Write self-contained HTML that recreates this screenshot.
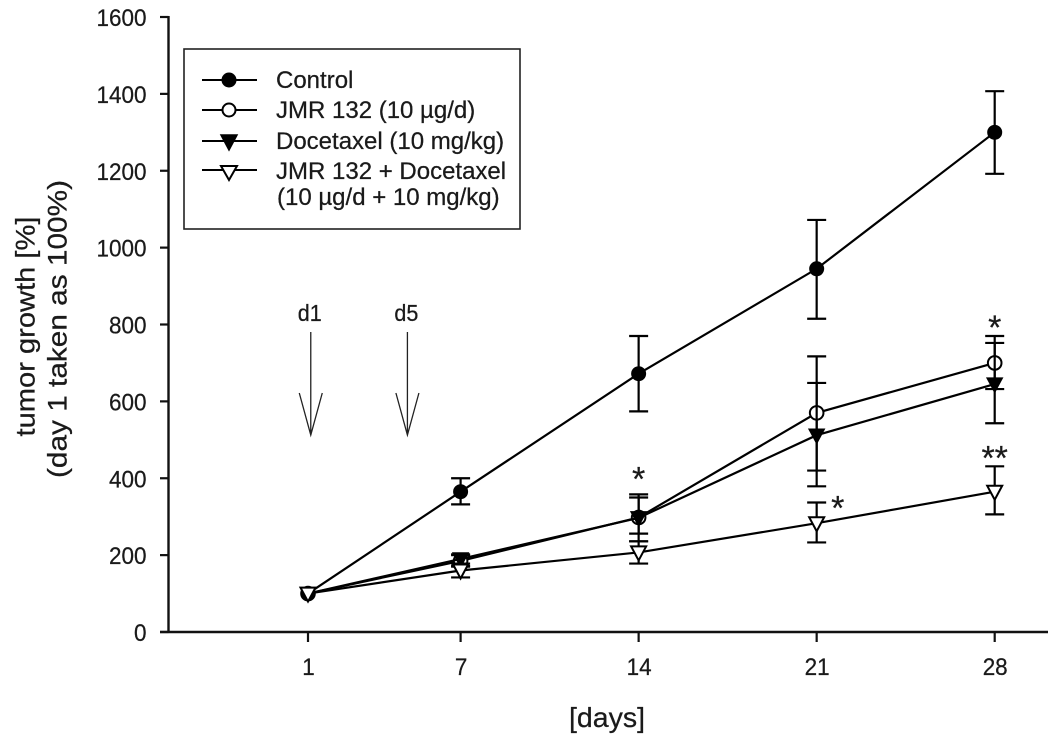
<!DOCTYPE html>
<html lang="en">
<head>
<meta charset="utf-8">
<title>Tumor growth chart</title>
<style>
html,body{margin:0;padding:0;background:#fff;width:1063px;height:740px;overflow:hidden}
svg{display:block}
text{font-family:"Liberation Sans",Arial,sans-serif;fill:#1a1a1a;stroke:#1a1a1a;stroke-width:.25}
</style>
</head>
<body>
<svg id="chart" xmlns="http://www.w3.org/2000/svg" width="1063" height="740" viewBox="0 0 1063 740">
  <g id="axes"></g>
  <g id="annotations"></g>
  <g id="series"></g>
  <text transform="translate(34.5,326.5) rotate(-90)" text-anchor="middle" font-size="27" textLength="220" lengthAdjust="spacingAndGlyphs">tumor growth [%]</text>
  <text transform="translate(66.5,329) rotate(-90)" text-anchor="middle" font-size="27" textLength="298" lengthAdjust="spacingAndGlyphs">(day 1 taken as 100%)</text>
  <text x="607" y="727" text-anchor="middle" font-size="28" textLength="76" lengthAdjust="spacingAndGlyphs">[days]</text>
  <g>
    <rect x="184" y="49" width="336" height="180" fill="#fff" stroke="#222" stroke-width="1.6"/>
    <g>
      <line x1="202" y1="80" x2="257" y2="80" stroke="#000" stroke-width="2"/>
      <circle cx="229" cy="80" r="7.5" fill="#000"/>
      <text x="276" y="88" font-size="24">Control</text>
    </g>
    <g>
      <line x1="202" y1="110" x2="257" y2="110" stroke="#000" stroke-width="2"/>
      <circle cx="229" cy="110" r="6.5" fill="#fff" stroke="#000" stroke-width="2"/>
      <text x="276" y="118" font-size="24">JMR 132 (10 µg/d)</text>
    </g>
    <g>
      <line x1="202" y1="141" x2="257" y2="141" stroke="#000" stroke-width="2"/>
      <path d="M221 135H237L229 150Z" fill="#000" stroke="#000" stroke-width="1.5"/>
      <text x="276" y="149" font-size="24">Docetaxel (10 mg/kg)</text>
    </g>
    <g>
      <line x1="202" y1="170" x2="257" y2="170" stroke="#000" stroke-width="2"/>
      <path d="M221 166H237L229 180Z" fill="#fff" stroke="#000" stroke-width="2"/>
      <text x="276" y="179" font-size="24">JMR 132 + Docetaxel</text>
      <text x="277" y="205" font-size="24">(10 µg/d + 10 mg/kg)</text>
    </g>
  </g>
</svg>
<script>
// Chart data
var days = [1, 7, 14, 21, 28];
var xTickLabels = ["1", "7", "14", "21", "28"];
var yTickLabels = ["0", "200", "400", "600", "800", "1000", "1200", "1400", "1600"];
var seriesNames = ["jmr132", "control", "docetaxel", "combination"];
var controlMean = [100, 365, 672, 945, 1300];
var controlHigh = [100, 400, 770, 1072, 1407];
var controlLow = [100, 332, 574, 815, 1192];
var jmrMean = [100, 185, 298, 570, 700];
var jmrHigh = [100, 200, 358, 717, 770];
var jmrLow = [100, 170, 256, 420, 632];
var doceMean = [100, 190, 297, 512, 645];
var doceHigh = [100, 202, 350, 648, 752];
var doceLow = [100, 178, 236, 379, 543];
var comboMean = [100, 160, 207, 283, 365];
var comboHigh = [100, 172, 236, 337, 431];
var comboLow = [100, 142, 178, 233, 306];
var arrowDays = [1.05, 4.85];
var arrowLabels = ["d1", "d5"];
var starDays = [28, 14, 21.83, 28];
var starValues = [802, 409, 333, 463];
var starLabels = ["*", "*", "*", "**"];

var NS = "http://www.w3.org/2000/svg";
function xScale(d) { return 308 + (d - 1) * (994.7 - 308) / 27; }
function yScale(v) { return 632 - v * (632 - 17) / 1600; }

function make(parent, tag, attrs, text) {
  var el = document.createElementNS(NS, tag);
  for (var k in attrs) el.setAttribute(k, attrs[k]);
  if (text !== undefined) el.textContent = text;
  parent.appendChild(el);
  return el;
}

var axes = document.getElementById("axes");
var yAxis = make(axes, "line", { x1: 168.5, y1: 16, x2: 168.5, y2: 633, stroke: "#111", "stroke-width": 2.4 });


var xAxis = make(axes, "line", { x1: 160, y1: 632, x2: 1048, y2: 632, stroke: "#111", "stroke-width": 2.4 });



yTickLabels.forEach(function (label) {
  var v = Number(label);
  var tick = make(axes, "line", { x1: 160, y1: yScale(v), x2: 168.5, y2: yScale(v), stroke: "#111", "stroke-width": 2.2 });
  
  
  var t = make(axes, "text", { x: 146.5, y: yScale(v) + 9, "text-anchor": "end", "font-size": 24, textLength: label.length * 12.5, lengthAdjust: "spacingAndGlyphs" }, label);
  
  
});

xTickLabels.forEach(function (label, i) {
  var px = xScale(days[i]);
  var tick = make(axes, "line", { x1: px, y1: 632, x2: px, y2: 642, stroke: "#111", "stroke-width": 2.2 });
  
  
  var t = make(axes, "text", { x: px + 0.5, y: 675, "text-anchor": "middle", "font-size": 24, textLength: label.length * 12.5, lengthAdjust: "spacingAndGlyphs" }, label);
  
  
});

var annotations = document.getElementById("annotations");
arrowDays.forEach(function (d, i) {
  var px = xScale(d) + 1.5;
  var g = make(annotations, "g", {});
  
  
  make(g, "path", {
    d: "M" + px + " 332V435M" + (px - 11.5) + " 393L" + px + " 435L" + (px + 11.5) + " 393",
    fill: "none", stroke: "#222", "stroke-width": 1.3
  });
  make(g, "text", { x: px - 1, y: 321, "text-anchor": "middle", "font-size": 23, textLength: 24, lengthAdjust: "spacingAndGlyphs" }, arrowLabels[i]);
});
starDays.forEach(function (d, i) {
  var s = make(annotations, "text", { x: xScale(d), y: yScale(starValues[i]) + 15.5, "text-anchor": "middle", "font-size": 34 }, starLabels[i]);
  
  
});

function drawErrorBars(g, mean, high, low) {
  days.forEach(function (d, i) {
    if (high[i] === low[i]) return;
    var px = xScale(d);
    var bar = make(g, "path", {
      d: "M" + (px - 9.5) + " " + yScale(high[i]) + "H" + (px + 9.5) +
         "M" + px + " " + yScale(high[i]) + "V" + yScale(low[i]) +
         "M" + (px - 9.5) + " " + yScale(low[i]) + "H" + (px + 9.5),
      fill: "none", stroke: "#000", "stroke-width": 2.2
    });
    
    
  });
}
function drawLine(g, mean) {
  var pts = days.map(function (d, i) { return xScale(d) + "," + yScale(mean[i]); }).join(" ");
  var line = make(g, "polyline", { points: pts, fill: "none", stroke: "#000", "stroke-width": 2.2 });
  
  
}
function drawMarkers(g, mean, kind) {
  days.forEach(function (d, i) {
    var px = xScale(d), py = yScale(mean[i]), m;
    if (kind === "control") {
      m = make(g, "circle", { cx: px, cy: py, r: 7.5, fill: "#000" });
    } else if (kind === "jmr132") {
      m = make(g, "circle", { cx: px, cy: py, r: 6.8, fill: "#fff", stroke: "#000", "stroke-width": 2 });
    } else if (kind === "docetaxel") {
      m = make(g, "path", { d: "M" + (px - 7.5) + " " + (py - 6) + "H" + (px + 7.5) + "L" + px + " " + (py + 8) + "Z", fill: "#000", stroke: "#000", "stroke-width": 1.5 });
    } else {
      m = make(g, "path", { d: "M" + (px - 7.5) + " " + (py - 6) + "H" + (px + 7.5) + "L" + px + " " + (py + 8) + "Z", fill: "#fff", stroke: "#000", "stroke-width": 2 });
    }
    
    
  });
}

var seriesRoot = document.getElementById("series");
var allSeries = [
  [jmrMean, jmrHigh, jmrLow],
  [controlMean, controlHigh, controlLow],
  [doceMean, doceHigh, doceLow],
  [comboMean, comboHigh, comboLow]
];
allSeries.forEach(function (s, i) {
  var g = make(seriesRoot, "g", {});
  
  
  drawErrorBars(g, s[0], s[1], s[2]);
  drawLine(g, s[0]);
  drawMarkers(g, s[0], seriesNames[i]);
});
</script>
</body>
</html>
